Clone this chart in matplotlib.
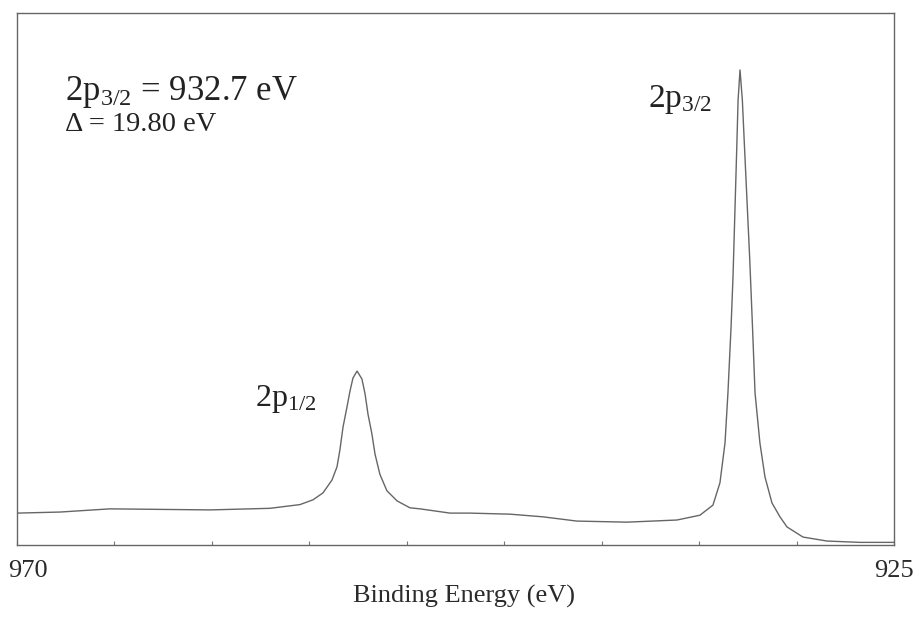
import matplotlib
matplotlib.use("Agg")
import matplotlib.pyplot as plt
import matplotlib.transforms as mtransforms

plt.rcParams['font.family'] = ['Liberation Serif', 'DejaVu Serif']
plt.rcParams['mathtext.fontset'] = 'custom'
plt.rcParams['mathtext.rm'] = 'Liberation Serif'
plt.rcParams['mathtext.it'] = 'Liberation Serif:italic'

# Binding energy (eV) and intensity (arb. units)
energy = [970.0, 967.79, 965.23, 962.66, 960.10, 957.02, 955.48, 954.81,
          954.30, 953.84, 953.58, 953.43, 953.27, 953.07, 952.91, 952.76,
          952.55, 952.30, 952.14, 951.99, 951.79, 951.63, 951.38, 951.02,
          950.50, 949.84, 949.32, 947.78, 946.76, 944.70, 943.01, 941.27,
          938.70, 936.14, 934.96, 934.29, 933.93, 933.67, 933.52, 933.36,
          933.26, 933.16, 933.06, 933.00, 932.90, 932.78, 932.68, 932.52,
          932.40, 932.26, 932.13, 931.88, 931.62, 931.26, 930.85, 930.49,
          929.67, 928.44, 926.75, 925.0]
intensity = [6.0, 6.2, 6.8, 6.7, 6.6, 6.9, 7.6, 8.5,
             9.8, 12.2, 14.7, 17.9, 22.2, 25.9, 29.0, 31.4,
             32.7, 31.2, 28.4, 24.6, 20.9, 17.1, 13.3, 10.2,
             8.3, 7.0, 6.8, 6.0, 6.0, 5.8, 5.3, 4.5,
             4.3, 4.7, 5.6, 7.5, 11.7, 19.2, 28.6, 41.0,
             50.4, 63.0, 75.6, 83.6, 89.3, 83.6, 75.6, 63.0,
             53.6, 41.0, 28.6, 19.2, 12.8, 7.9, 5.3, 3.4,
             1.5, 0.75, 0.5, 0.5]

xlim = (970, 925)
ylim = (0, 100)
tick_positions = [970, 965, 960, 955, 950, 945, 940, 935, 930, 925]
tick_labels = ['970', '', '', '', '', '', '', '', '', '925']

fig = plt.figure(figsize=(9.14, 6.19), dpi=100)
ax = fig.add_axes([0.0186, 0.1195, 0.9595, 0.8595])

ax.plot(energy, intensity, color='#666666', linewidth=1.0)
ax.set_xlim(*xlim)
ax.set_ylim(*ylim)

for s in ax.spines.values():
    s.set_color('#666666')
    s.set_linewidth(1.0)

ax.set_yticks([])
ax.set_xticks(tick_positions)
ax.set_xticklabels(tick_labels, fontsize=19, color='#2a2a2a')
ax.tick_params(axis='x', direction='in', length=3, width=0.8, color='#777777', pad=11)
lbls = ax.get_xticklabels()
offset = mtransforms.ScaledTranslation(11 / 100, 0, fig.dpi_scale_trans)
lbls[0].set_transform(lbls[0].get_transform() + offset)

ax.set_xlabel('Binding Energy (eV)', fontsize=19, color='#2a2a2a')
ax.xaxis.set_label_coords(0.51, -0.075, transform=ax.transAxes)

ax.text(0.055, 0.837, r'2p$_{\mathrm{3/2}}$ = 932.7 eV', transform=ax.transAxes,
        fontsize=25, color='#222222', va='baseline', ha='left')
ax.text(0.055, 0.778, '\u0394 = 19.80 eV', transform=ax.transAxes,
        fontsize=20.5, color='#222222', va='baseline', ha='left')

ax.text(937.6, 82.3, r'2p$_{\mathrm{3/2}}$', fontsize=24, color='#222222',
        va='baseline', ha='left')
ax.text(957.8, 26.1, r'2p$_{\mathrm{1/2}}$', fontsize=23, color='#222222',
        va='baseline', ha='left')

fig.savefig('out.png', dpi=100)
